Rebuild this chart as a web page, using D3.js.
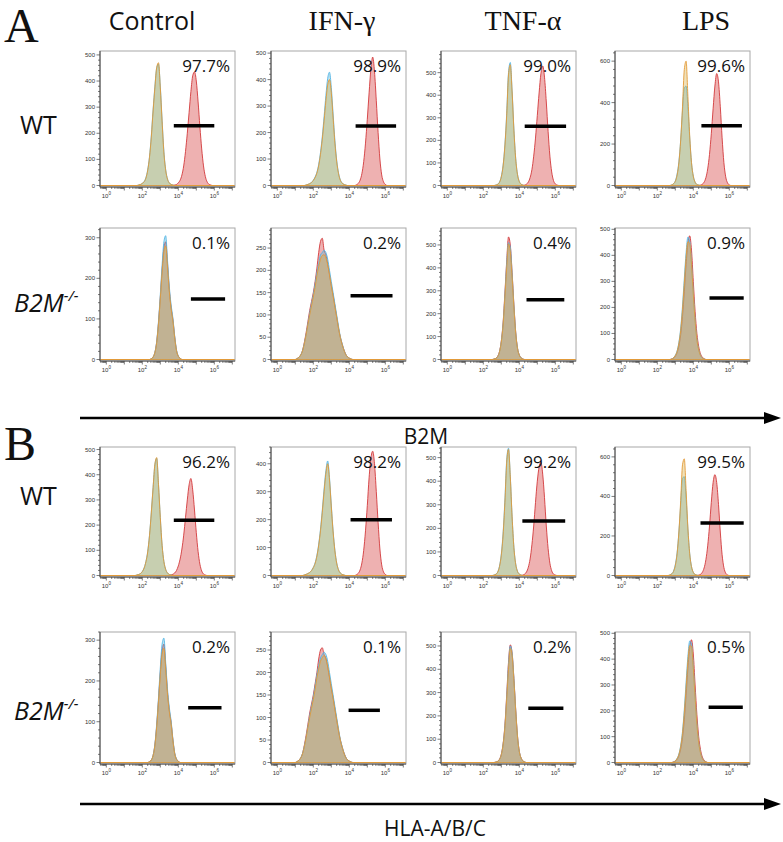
<!DOCTYPE html>
<html><head><meta charset="utf-8">
<script src="https://cdn.jsdelivr.net/npm/d3@7"></script>
<style>body{margin:0;background:#fff}svg{display:block}</style>
</head><body>
<svg id="c" width="783" height="842"></svg>
<script>
// ---------------- DATA ----------------
const conditions = ["Control", "IFN-γ", "TNF-α", "LPS"];
const sectionLetters = ["A", "B"];
const markers = ["B2M", "HLA-A/B/C"];
const xTickLabelExponents = [0, 2, 4, 6];
const binStep = 0.1; // histogram bin width in decades

// percentages of positive cells
const pct_aWT = ["97.7%", "98.9%", "99.0%", "99.6%"];
const pct_aKO = ["0.1%", "0.2%", "0.4%", "0.9%"];
const pct_bWT = ["96.2%", "98.2%", "99.2%", "99.5%"];
const pct_bKO = ["0.2%", "0.1%", "0.2%", "0.5%"];

// y-axis maxima and tick steps (counts)
const yMax_aWT = [515, 508, 596, 649], yStep_aWT = [100, 100, 100, 200];
const yMax_aKO = [324, 295, 574, 505], yStep_aKO = [100, 50, 100, 100];
const yMax_bWT = [510, 460, 545, 650], yStep_bWT = [100, 100, 100, 200];
const yMax_bKO = [320, 290, 560, 505], yStep_bKO = [100, 50, 100, 100];

// gates: count level, start/end exponent
const gateY_aWT = [229, 225, 263, 288], gateX0_aWT = [3.75, 4.35, 4.3, 4.45], gateX1_aWT = [6.0, 6.6, 6.6, 6.7];
const gateY_aKO = [149, 143, 261, 236], gateX0_aKO = [4.7, 4.07, 4.4, 4.9], gateX1_aKO = [6.6, 6.4, 6.5, 6.8];
const gateY_bWT = [219, 200, 231, 265], gateX0_bWT = [3.75, 4.07, 4.17, 4.4], gateX1_bWT = [6.0, 6.37, 6.55, 6.8];
const gateY_bKO = [134, 116, 233, 214], gateX0_bKO = [4.55, 3.96, 4.5, 4.85], gateX1_bKO = [6.4, 5.7, 6.45, 6.75];

// histogram counts (first bin exponent + counts every 0.1 decade)
// A, WT
const aWT_blueStart = [1.8, 1.6, 2.7, 2.8];
const aWT_blue = [
  [2,4,8,15,30,60,110,190,290,380,450,465,380,250,130,60,25,10,4,2],
  [2,4,7,12,20,32,50,80,125,185,260,340,405,428,370,270,170,95,48,22,10,4,2],
  [2,6,15,40,90,180,320,500,545,420,250,120,50,18,6,2],
  [3,9,22,55,115,220,360,470,480,380,230,110,45,16,5,2]
];
const aWT_orangeStart = [1.8, 1.6, 2.7, 2.8];
const aWT_orange = [
  [2,4,8,14,28,58,108,185,285,375,452,470,375,245,125,58,24,10,4,2],
  [2,4,7,11,19,30,47,75,118,175,245,320,380,400,350,255,160,90,45,20,9,4,2],
  [2,5,14,38,86,175,310,490,535,415,245,118,48,17,6,2],
  [3,8,20,50,110,220,380,560,600,430,240,110,45,16,5,2]
];
const aWT_redStart = [3.8, 4.4, 4.3, 4.4];
const aWT_red = [
  [2,4,10,20,40,75,130,200,280,360,420,435,400,320,225,140,75,35,14,5,2],
  [3,8,20,45,90,160,250,350,440,485,430,320,200,100,40,14,4],
  [2,6,15,35,70,130,210,310,410,495,530,480,370,240,130,60,22,7,2],
  [2,6,16,38,80,150,250,370,480,540,500,380,230,110,42,13,3]
];
// A, B2M-/-
const aKO_blueStart = [2.5, 1.1, 2.6, 2.8];
const aKO_blue = [
  [2,6,18,45,95,160,232,290,305,245,180,135,102,58,24,9,3],
  [2,5,10,20,36,56,80,104,125,145,170,195,215,235,240,245,240,225,200,175,150,125,100,75,52,36,22,12,6,3,1],
  [2,5,13,33,78,155,280,420,510,490,375,235,118,50,20,7,2],
  [2,7,16,33,66,120,205,310,410,470,455,370,255,150,78,38,16,6,2]
];
const aKO_orangeStart = [2.5, 1.1, 2.6, 2.8];
const aKO_orange = [
  [2,6,17,42,88,150,215,265,280,228,168,125,95,54,22,8,3],
  [2,5,10,19,35,55,78,100,120,140,162,188,208,225,233,235,228,212,190,166,142,118,95,71,50,34,21,11,6,3,1],
  [2,5,13,33,76,150,272,400,505,470,360,228,115,48,19,7,2],
  [2,6,15,31,62,112,192,292,392,452,445,365,252,148,76,37,15,6,2]
];
const aKO_redStart = [2.5, 1.1, 2.6, 2.8];
const aKO_red = [
  [2,6,17,43,90,152,220,275,290,236,172,128,98,55,22,8,3],
  [2,5,10,20,38,60,85,110,130,150,175,205,240,265,272,245,235,215,190,165,145,120,95,70,50,35,22,12,6,3,1],
  [2,5,14,35,80,160,290,430,535,500,380,240,120,50,20,7,2],
  [2,5,12,26,52,95,165,260,365,445,475,420,300,185,100,50,22,9,3]
];
// B, WT
const bWT_blueStart = [1.7, 1.5, 2.6, 2.7];
const bWT_blue = [
  [2,4,8,16,30,55,95,160,250,350,440,465,360,230,120,55,24,10,4,2],
  [2,4,7,11,18,29,45,72,112,166,234,310,375,410,350,252,160,90,45,21,9,4,2],
  [2,6,15,40,90,180,320,490,540,420,250,120,50,18,6,2],
  [3,9,22,55,115,220,360,490,500,390,235,112,45,16,5,2]
];
const bWT_orangeStart = [1.7, 1.5, 2.6, 2.7];
const bWT_orange = [
  [2,4,8,15,29,54,93,158,248,348,442,468,362,230,120,55,24,10,4,2],
  [2,4,7,11,17,28,43,69,108,160,226,300,365,400,342,246,156,88,44,20,9,4,2],
  [2,5,14,38,86,172,310,480,535,418,248,118,48,17,6,2],
  [3,8,20,50,110,220,380,560,590,430,240,110,45,16,5,2]
];
const bWT_redStart = [3.6, 4.4, 4.2, 4.3];
const bWT_red = [
  [2,5,10,20,38,65,105,160,230,300,360,385,340,260,170,95,45,18,6,2],
  [3,8,20,45,90,160,250,350,420,445,400,300,190,95,38,13,4],
  [2,6,15,35,70,130,210,310,400,460,480,430,330,210,115,52,20,6,2],
  [2,6,16,38,80,150,250,370,470,510,470,360,220,105,40,12,3]
];
// B, B2M-/-
const bKO_blueStart = [2.4, 1.1, 2.7, 2.9];
const bKO_blue = [
  [2,6,18,45,95,160,232,290,305,245,180,135,102,58,24,9,3],
  [2,5,10,20,36,56,80,104,125,145,170,195,215,232,240,245,240,225,200,175,150,125,100,75,52,36,22,12,6,3,1],
  [2,5,13,33,78,155,280,420,500,470,360,225,112,48,19,7,2],
  [2,7,16,33,66,120,205,310,410,470,460,370,255,150,78,38,16,6,2]
];
const bKO_orangeStart = [2.4, 1.1, 2.7, 2.9];
const bKO_orange = [
  [2,6,17,42,88,150,215,265,280,228,168,125,95,54,22,8,3],
  [2,5,10,19,35,55,78,100,120,140,162,188,208,225,233,238,230,214,190,166,142,118,95,71,50,34,21,11,6,3,1],
  [2,5,13,33,76,150,272,400,490,460,352,222,110,47,19,7,2],
  [2,6,15,31,62,112,192,292,392,452,450,365,252,148,76,37,15,6,2]
];
const bKO_redStart = [2.4, 1.1, 2.7, 2.9];
const bKO_red = [
  [2,6,17,43,90,152,220,275,290,236,172,128,98,55,22,8,3],
  [2,5,10,20,38,60,85,110,130,150,175,200,230,250,255,240,232,212,188,164,144,119,94,70,50,35,22,12,6,3,1],
  [2,5,14,35,80,160,290,430,505,470,360,228,114,48,19,7,2],
  [2,5,12,26,52,95,165,260,365,445,475,420,300,185,100,50,22,9,3]
];

// ---------------- LAYOUT ----------------
const svg = d3.select("#c");
const W = 135;
const colLeft = [100, 271, 441, 615];
const xExpDomain = [-0.35, 7.15];
const seriesStyles = [
  {key: "red",    stroke: "#d2393b", fill: "rgba(215,70,70,0.42)"},
  {key: "blue",   stroke: "#52b4e4", fill: "rgba(90,185,220,0.4)"},
  {key: "orange", stroke: "#e39a38", fill: "rgba(215,175,70,0.38)"}
];

const rows = [
  {key: "aWT", top: 51, base: 187, pct: pct_aWT, yMax: yMax_aWT, yStep: yStep_aWT, gY: gateY_aWT, gX0: gateX0_aWT, gX1: gateX1_aWT,
   series: {blue: [aWT_blueStart, aWT_blue], orange: [aWT_orangeStart, aWT_orange], red: [aWT_redStart, aWT_red]}},
  {key: "aKO", top: 228, base: 361, pct: pct_aKO, yMax: yMax_aKO, yStep: yStep_aKO, gY: gateY_aKO, gX0: gateX0_aKO, gX1: gateX1_aKO,
   series: {blue: [aKO_blueStart, aKO_blue], orange: [aKO_orangeStart, aKO_orange], red: [aKO_redStart, aKO_red]}},
  {key: "bWT", top: 447, base: 577, pct: pct_bWT, yMax: yMax_bWT, yStep: yStep_bWT, gY: gateY_bWT, gX0: gateX0_bWT, gX1: gateX1_bWT,
   series: {blue: [bWT_blueStart, bWT_blue], orange: [bWT_orangeStart, bWT_orange], red: [bWT_redStart, bWT_red]}},
  {key: "bKO", top: 632, base: 764, pct: pct_bKO, yMax: yMax_bKO, yStep: yStep_bKO, gY: gateY_bKO, gX0: gateX0_bKO, gX1: gateX1_bKO,
   series: {blue: [bKO_blueStart, bKO_blue], orange: [bKO_orangeStart, bKO_orange], red: [bKO_redStart, bKO_red]}}
];

const tickFont = "Liberation Sans, Arial, sans-serif";

rows.forEach(row => {
  conditions.forEach((cond, ci) => {
    const H = row.base - row.top;
    const g = svg.append("g").attr("transform", `translate(${colLeft[ci]},${row.top})`);
    const x = d3.scaleLog().domain(xExpDomain.map(e => Math.pow(10, e))).range([0, W]);
    const y = d3.scaleLinear().domain([0, row.yMax[ci]]).range([H - 1.5, 0]);

    const id = `clip-${row.key}-${ci}`;
    g.append("clipPath").attr("id", id).append("rect").attr("width", W).attr("height", H);
    const plot = g.append("g").attr("clip-path", `url(#${id})`);

    const area = d3.area().x(d => x(d.v)).y0(y(0)).y1(d => y(d.c)).curve(d3.curveMonotoneX);
    seriesStyles.forEach(s => {
      const start = row.series[s.key][0][ci];
      const counts = row.series[s.key][1][ci];
      const pts = [{v: Math.pow(10, xExpDomain[0]), c: 0}, {v: Math.pow(10, start - binStep), c: 0}]
        .concat(counts.map((c, i) => ({v: Math.pow(10, start + i * binStep), c})))
        .concat([{v: Math.pow(10, start + counts.length * binStep), c: 0}, {v: Math.pow(10, xExpDomain[1]), c: 0}]);
      plot.append("path").attr("d", area(pts))
        .attr("fill", s.fill).attr("stroke", s.stroke).attr("stroke-width", 0.9);
    });

    // frame
    g.append("rect").attr("width", W).attr("height", H)
      .attr("fill", "none").attr("stroke", "#a8a8a8").attr("stroke-width", 1);
    g.append("line").attr("x1", 0).attr("x2", 0).attr("y1", 0).attr("y2", H).attr("stroke", "#444").attr("stroke-width", 1);
    g.append("line").attr("x1", 0).attr("x2", W).attr("y1", H).attr("y2", H).attr("stroke", "#444").attr("stroke-width", 1);

    // x ticks
    const xt = x.ticks();
    xt.forEach(v => {
      const e = Math.log10(v);
      const major = Math.abs(e - Math.round(e)) < 1e-9;
      g.append("line").attr("x1", x(v)).attr("x2", x(v)).attr("y1", H).attr("y2", H + (major ? 3.5 : 2))
        .attr("stroke", "#444").attr("stroke-width", 0.7);
    });
    xTickLabelExponents.forEach(k => {
      const t = g.append("text").attr("x", x(Math.pow(10, k))).attr("y", H + 11)
        .attr("text-anchor", "middle").attr("font-family", tickFont).attr("font-size", 6).attr("fill", "#333");
      t.append("tspan").text("10");
      t.append("tspan").attr("dy", -3).attr("font-size", 4.5).text(k);
    });

    // y ticks
    const step = row.yStep[ci];
    d3.range(0, row.yMax[ci] + 0.1, step / 5).forEach(v => {
      const major = Math.abs(v / step - Math.round(v / step)) < 1e-9;
      g.append("line").attr("x1", 0).attr("x2", major ? -3.5 : -2).attr("y1", y(v)).attr("y2", y(v))
        .attr("stroke", "#444").attr("stroke-width", 0.7);
      if (major) {
        g.append("text").attr("x", -5).attr("y", y(v) + 2).attr("text-anchor", "end")
          .attr("font-family", tickFont).attr("font-size", 6).attr("fill", "#333").text(v);
      }
    });

    // gate
    g.append("line")
      .attr("x1", x(Math.pow(10, row.gX0[ci]))).attr("x2", x(Math.pow(10, row.gX1[ci])))
      .attr("y1", y(row.gY[ci])).attr("y2", y(row.gY[ci]))
      .attr("stroke", "#000").attr("stroke-width", 3.5);

    // percentage
    g.append("text").attr("x", W - 5).attr("y", 21).attr("text-anchor", "end")
      .attr("font-family", "Open Sans, sans-serif").attr("font-size", 17).attr("fill", "#111")
      .text(row.pct[ci]);
  });
});

// column headers
const headerX = [152, 342, 523, 706];
conditions.forEach((c, i) => {
  svg.append("text").attr("x", headerX[i]).attr("y", 30).attr("text-anchor", "middle")
    .attr("font-family", i === 0 ? "Open Sans, sans-serif" : "Liberation Serif, Times New Roman, serif")
    .attr("font-size", i === 0 ? 25 : 28).attr("fill", "#111").text(c);
});

// section letters
const letterY = [42, 460];
sectionLetters.forEach((l, i) => {
  svg.append("text").attr("x", 4).attr("y", letterY[i])
    .attr("font-family", "Liberation Serif, Times New Roman, serif").attr("font-size", 48).attr("fill", "#111").text(l);
});

// row labels
const wtY = [134, 505], koY = [312, 720];
[0, 1].forEach(i => {
  svg.append("text").attr("x", 20).attr("y", wtY[i]).attr("font-family", "Open Sans, sans-serif")
    .attr("font-size", 25).attr("fill", "#111").text("WT");
  const t = svg.append("text").attr("x", 14).attr("y", koY[i]).attr("font-family", "Open Sans, sans-serif")
    .attr("font-size", 25).attr("font-style", "italic").attr("fill", "#111");
  t.append("tspan").text("B2M");
  t.append("tspan").attr("dy", -11).attr("font-size", 15).text("-/-");
});

// arrows + marker labels
const arrowY = [418, 804], titleY = [444, 836], titleX = [426, 435];
[0, 1].forEach(i => {
  svg.append("line").attr("x1", 80).attr("x2", 766).attr("y1", arrowY[i]).attr("y2", arrowY[i])
    .attr("stroke", "#000").attr("stroke-width", 2.5);
  svg.append("path").attr("d", `M${764},${arrowY[i] - 6}L${781},${arrowY[i]}L${764},${arrowY[i] + 6}Z`).attr("fill", "#000");
  svg.append("text").attr("x", titleX[i]).attr("y", titleY[i]).attr("text-anchor", "middle")
    .attr("font-family", "Open Sans, sans-serif").attr("font-size", 21).attr("fill", "#111").text(markers[i]);
});
</script>
</body></html>
